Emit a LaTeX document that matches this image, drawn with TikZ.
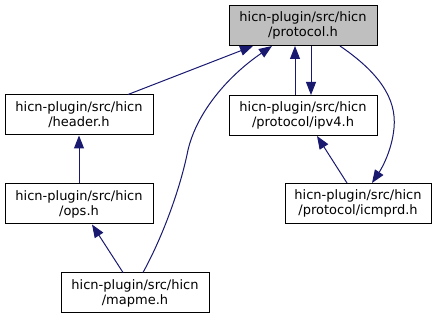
\documentclass[tikz,border=0pt]{standalone}
\usepackage{fontspec}
\setmainfont{DejaVu Sans}
\usetikzlibrary{arrows.meta}
\definecolor{edgeblue}{HTML}{191970}
\definecolor{maingray}{HTML}{BFBFBF}
\tikzset{
  filebox/.style={draw=black, line width=1pt, fill=white, minimum width=148pt, minimum height=40pt, inner sep=0pt, align=center, font=\fontsize{13}{15}\selectfont},
  dep/.style={draw=edgeblue, line width=1pt, -{Triangle[length=13pt,width=10pt]}, edgeblue},
}
\begin{document}
\begin{tikzpicture}[x=1pt,y=-1pt]
\useasboundingbox (0,0) rectangle (439,320);
\node[filebox, fill=maingray] (proto) at (303,25.5) {hicn-plugin/src/hicn\\/protocol.h};
\node[filebox] (header) at (79,115) {hicn-plugin/src/hicn\\/header.h};
\node[filebox] (ops) at (79,204) {hicn-plugin/src/hicn\\/ops.h};
\node[filebox] (mapme) at (135,293) {hicn-plugin/src/hicn\\/mapme.h};
\node[filebox] (ipv4) at (303,115.5) {hicn-plugin/src/hicn\\/protocol/ipv4.h};
\node[filebox, minimum width=146pt] (icmprd) at (358,203.5) {hicn-plugin/src/hicn\\/protocol/icmprd.h};

\draw[dep] ([xshift=49pt]header.north) -- ([xshift=-50pt]proto.south);
\draw[dep] ([xshift=8pt]mapme.north) .. controls (162,238) and (180,190) .. (188,150)
   .. controls (197,112) and (228,76) .. ([xshift=-31pt]proto.south);
\draw[dep] ([xshift=-8pt]ipv4.north) -- ([xshift=-8pt]proto.south);
\draw[dep] ([xshift=8pt]proto.south) -- ([xshift=8pt]ipv4.north);
\draw[dep] ([xshift=37pt]proto.south) .. controls (378,72) and (397,98) .. (394,128)
   .. controls (392,150) and (382,168) .. ([xshift=14pt]icmprd.north);
\draw[dep] ([xshift=-11pt]icmprd.north) -- ([xshift=14pt]ipv4.south);
\draw[dep] (ops.north) -- (header.south);
\draw[dep] ([xshift=-12pt]mapme.north) -- ([xshift=13pt]ops.south);
\end{tikzpicture}
\end{document}
